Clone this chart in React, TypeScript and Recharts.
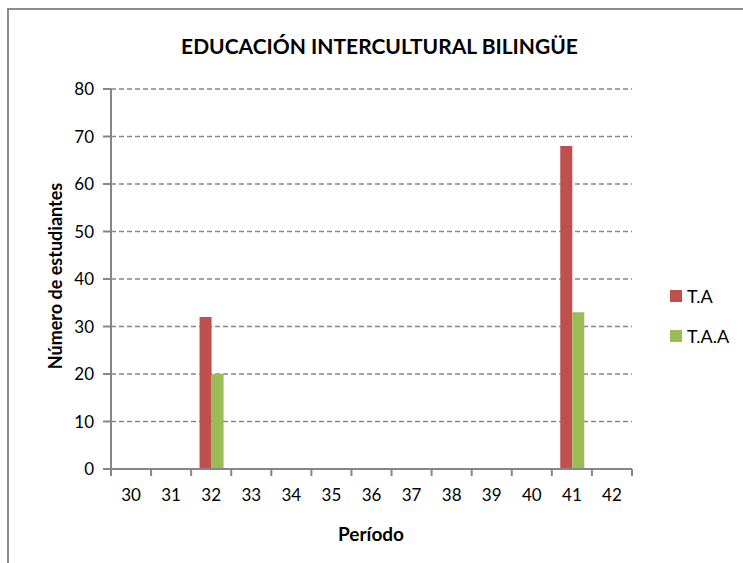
import React from 'react';
import { BarChart, Bar, XAxis, YAxis, CartesianGrid } from 'recharts';

const periods = ['30', '31', '32', '33', '34', '35', '36', '37', '38', '39', '40', '41', '42'];
const taValues = [0, 0, 32, 0, 0, 0, 0, 0, 0, 0, 0, 68, 0];
const taaValues = [0, 0, 20, 0, 0, 0, 0, 0, 0, 0, 0, 33, 0];
const yTicks = [0, 10, 20, 30, 40, 50, 60, 70, 80];

const FONT = 'Lato, "Open Sans", sans-serif';
const AXIS = '#868686';
const RED = '#C0504D';
const GREEN = '#9BBB59';

const PLOT_LEFT = 111;
const PLOT_RIGHT = 632;
const PLOT_BOTTOM = 469;
const BAND = (PLOT_RIGHT - PLOT_LEFT) / periods.length;

const data = periods.map((p, i) => ({ period: p, ta: taValues[i], taa: taaValues[i] }));

// Excel-style ticks: marks sit between categories, labels in the middle
const XTick = (props: any) => {
  const { x, payload } = props;
  const cx = Number(x);
  const left = cx - BAND / 2;
  const last = payload.value === periods[periods.length - 1];
  return (
    <g>
      <rect x={left - 1} y={PLOT_BOTTOM} width={2} height={7} fill={AXIS} />
      {last && <rect x={left + BAND - 1} y={PLOT_BOTTOM} width={2} height={7} fill={AXIS} />}
      <text x={cx} y={PLOT_BOTTOM + 32} textAnchor="middle" fontSize={17} fontFamily={FONT} fill="#000">
        {payload.value}
      </text>
    </g>
  );
};

export default function App() {
  return (
    <div style={{ position: 'absolute', left: 0, top: 0, width: 743, height: 563, background: '#fff', fontFamily: FONT }}>
      <div
        style={{
          position: 'absolute',
          left: 7,
          top: 8,
          width: 760,
          height: 580,
          borderTop: '2px solid #8c8c8c',
          borderLeft: '2px solid #8c8c8c',
        }}
      />
      <div
        style={{
          position: 'absolute',
          left: 0,
          width: 743,
          top: 33,
          textAlign: 'center',
          fontSize: 21,
          fontWeight: 700,
          paddingLeft: 16,
          boxSizing: 'border-box',
        }}
      >
        EDUCACIÓN INTERCULTURAL BILINGÜE
      </div>
      <BarChart
        width={743}
        height={563}
        data={data}
        margin={{ top: 89, right: 743 - PLOT_RIGHT, bottom: 64, left: 51 }}
        barCategoryGap="21%"
        barGap={0}
        style={{ position: 'absolute', left: 0, top: 0 }}
      >
        <CartesianGrid vertical={false} stroke={AXIS} strokeDasharray="5 3" strokeWidth={1.3} />
        <XAxis
          dataKey="period"
          height={30}
          axisLine={{ stroke: AXIS, strokeWidth: 2 }}
          tickLine={false}
          tick={<XTick />}
          interval={0}
        />
        <YAxis
          width={60}
          domain={[0, 80]}
          ticks={yTicks}
          interval={0}
          axisLine={{ stroke: AXIS, strokeWidth: 2 }}
          tickLine={{ stroke: AXIS, strokeWidth: 2 }}
          tickSize={8}
          tickMargin={9}
          tick={{ fontSize: 17, fill: '#000', fontFamily: FONT }}
        />
        <Bar dataKey="ta" name="T.A" fill={RED} isAnimationActive={false} />
        <Bar dataKey="taa" name="T.A.A" fill={GREEN} isAnimationActive={false} />
      </BarChart>
      <div
        style={{
          position: 'absolute',
          left: 55,
          top: 276,
          transform: 'translate(-50%, -50%) rotate(-90deg)',
          whiteSpace: 'nowrap',
          fontSize: 18,
          fontWeight: 700,
        }}
      >
        Número de estudiantes
      </div>
      <div
        style={{
          position: 'absolute',
          left: 371,
          top: 533,
          transform: 'translate(-50%, -50%)',
          whiteSpace: 'nowrap',
          fontSize: 19,
          fontWeight: 700,
        }}
      >
        Período
      </div>
      {[
        { label: 'T.A', color: RED, y: 296 },
        { label: 'T.A.A', color: GREEN, y: 336 },
      ].map((item) => (
        <div
          key={item.label}
          style={{ position: 'absolute', left: 670, top: item.y - 12, height: 24, display: 'flex', alignItems: 'center', fontSize: 18 }}
        >
          <span style={{ display: 'inline-block', width: 12, height: 12, background: item.color, marginRight: 5 }} />
          {item.label}
        </div>
      ))}
    </div>
  );
}
